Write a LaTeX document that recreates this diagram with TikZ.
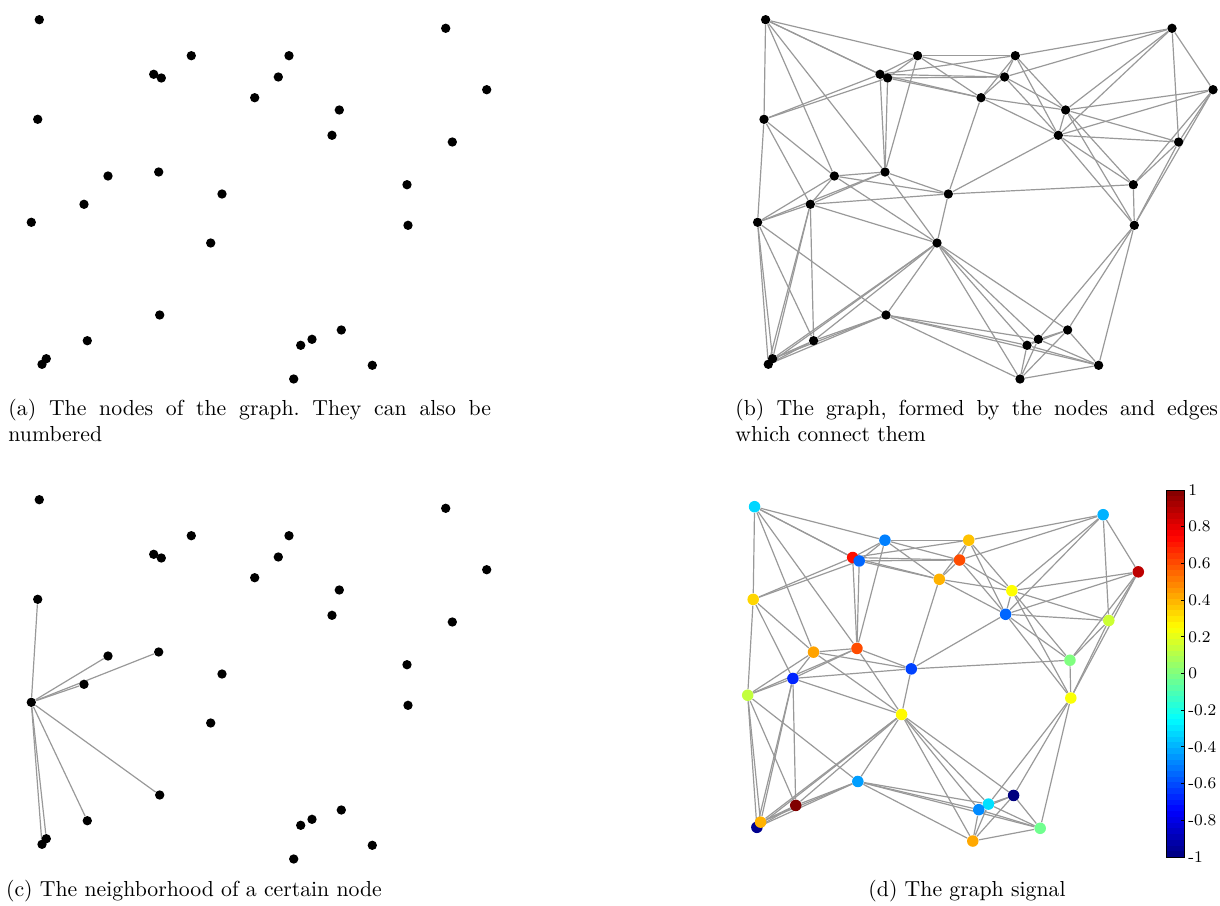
\documentclass[tikz,border=0pt]{standalone}
\usepackage{tikz}
\usetikzlibrary{calc}
\pgfdeclarelayer{bg}
\pgfsetlayers{bg,main}
\frenchspacing

\def\graphpts{39.3/19.7/-0.33, 445.7/28.3/-0.40, 191.3/55.7/-0.50, 289/55.7/0.37, 153.7/74.3/0.72, 161.3/78/-0.55, 278.3/77/0.60, 486.7/89.7/0.88, 254.7/97.7/0.40, 37.7/119.3/0.33, 339.3/110/0.25, 332/135.3/-0.55, 452.3/142/0.15, 108/176/0.43, 158.7/172/0.60, 222/194/-0.62, 407/184.7/0.0, 84/204.3/-0.68, 31.3/222.3/0.13, 408/225.3/0.24, 210.7/243/0.26, 159.7/315/-0.44, 87.3/340.7/1.0, 42/364.3/-0.97, 46.3/358.7/0.40, 341.3/330/-1.0, 312/339.3/-0.31, 300.7/345.3/-0.48, 372.3/365.3/-0.03, 293.7/379/0.42}

\def\graphlinks{1/3,1/5,1/6,1/10,1/14,1/15,
2/4,2/7,2/8,2/11,2/12,2/13,
3/4,3/5,3/6,3/7,3/9,3/15,
4/5,4/7,4/9,4/11,4/12,
5/6,5/7,5/9,5/10,5/15,
6/7,6/9,6/10,6/15,
7/9,7/11,7/12,
8/11,8/12,8/13,8/17,8/20,
9/11,9/12,9/16,
10/14,10/18,10/19,
11/12,11/13,11/17,11/20,
12/13,12/16,12/17,12/20,
13/17,13/20,
14/15,14/16,14/18,14/19,14/21,
15/16,15/18,15/19,15/21,
16/17,16/18,16/21,
17/20,
18/19,18/21,18/23,18/24,18/25,
19/22,19/23,19/24,19/25,
20/26,20/27,20/29,
21/22,21/23,21/24,21/25,21/26,21/27,21/28,21/30,
22/23,22/24,22/25,22/27,22/28,22/29,22/30,
23/24,23/25,24/25,
26/27,26/28,26/29,26/30,
27/28,27/29,27/30,
28/29,28/30,29/30}

\newcommand{\jetcolor}[2]{%
	\pgfmathsetmacro\jt{#2}%
	\pgfmathsetmacro\jr{max(0,min(1,1.5-abs(4*\jt-3)))}%
	\pgfmathsetmacro\jg{max(0,min(1,1.5-abs(4*\jt-2)))}%
	\pgfmathsetmacro\jb{max(0,min(1,1.5-abs(4*\jt-1)))}%
	\definecolor{#1}{rgb}{\jr,\jg,\jb}}

\begin{document}
\begin{tikzpicture}[
	x=0.46pt, y=-0.46pt,
	vtx/.style={circle, fill=black, inner sep=0pt, minimum size=4.3pt},
	sigvtx/.style={circle, inner sep=0pt, minimum size=5.3pt},
	link/.style={draw=black!40, line width=0.55pt},
	caption/.style={inner sep=0pt, font=\normalsize},
	cblabel/.style={inner sep=0pt, anchor=west, font=\fontsize{7.5}{8}\selectfont}
]
\useasboundingbox (0,0) rectangle (1220,905);

% (a)
\foreach \x/\y/\v [count=\k] in \graphpts
	\node[vtx] (a\k) at (\x,\y) {};

% (b)
\begin{scope}[shift={(726.3,0)}]
\foreach \x/\y/\v [count=\k] in \graphpts
	\node[vtx] (b\k) at (\x,\y) {};
\end{scope}
\begin{pgfonlayer}{bg}
\foreach \i/\j in \graphlinks
	\draw[link] (b\i) -- (b\j);
\end{pgfonlayer}

% (c)
\begin{scope}[shift={(0,480)}]
\foreach \x/\y/\v [count=\k] in \graphpts
	\node[vtx] (c\k) at (\x,\y) {};
\end{scope}
\begin{pgfonlayer}{bg}
\foreach \j in {10,14,15,18,22,23,24,25}
	\draw[link] (c19) -- (c\j);
\end{pgfonlayer}

% (d)
\begin{scope}[shift={(720.85,488.37)}, xscale=0.8577, yscale=0.9305]
\foreach \x/\y/\v [count=\k] in \graphpts {
	\jetcolor{sig}{(\v+1)/2}
	\node[sigvtx, fill=sig] (d\k) at (\x,\y) {};
}
\end{scope}
\begin{pgfonlayer}{bg}
\foreach \i/\j in \graphlinks
	\draw[link] (d\i) -- (d\j);
\end{pgfonlayer}

% colorbar
\foreach \i in {0,...,63} {
	\jetcolor{band}{(\i+0.5)/64}
	\fill[band] (1166,{857-\i*5.734}) rectangle (1184,{857-(\i+1)*5.734-0.4});
}
\draw[line width=0.4pt] (1166,490) rectangle (1184,857);
\foreach \tv/\lab [count=\k] in {1/1,0.8/0.8,0.6/0.6,0.4/0.4,0.2/0.2,0/0,-0.2/-0.2,-0.4/-0.4,-0.6/-0.6,-0.8/-0.8,-1/-1} {
	\draw[line width=0.4pt] (1184,{673.5-\tv*183.5}) -- ++(-3,0);
	\node[cblabel] (cb\k) at (1188,{673.5-\tv*183.5}) {\lab};
}

\node[caption, anchor=north west, text width=222pt, align=justify] (capa) at (8,399) {(a) The nodes of the graph. They can also be \mbox{numbered}};
\node[caption, anchor=north west, text width=222pt, align=justify] (capb) at (735,399) {(b) The graph, formed by the nodes and edges which connect them};
\node[caption, anchor=base] (capc) at (194,896) {(c) The neighborhood of a certain node};
\node[caption, anchor=base] (capd) at (967,896) {(d) The graph signal};

\end{tikzpicture}
\end{document}
